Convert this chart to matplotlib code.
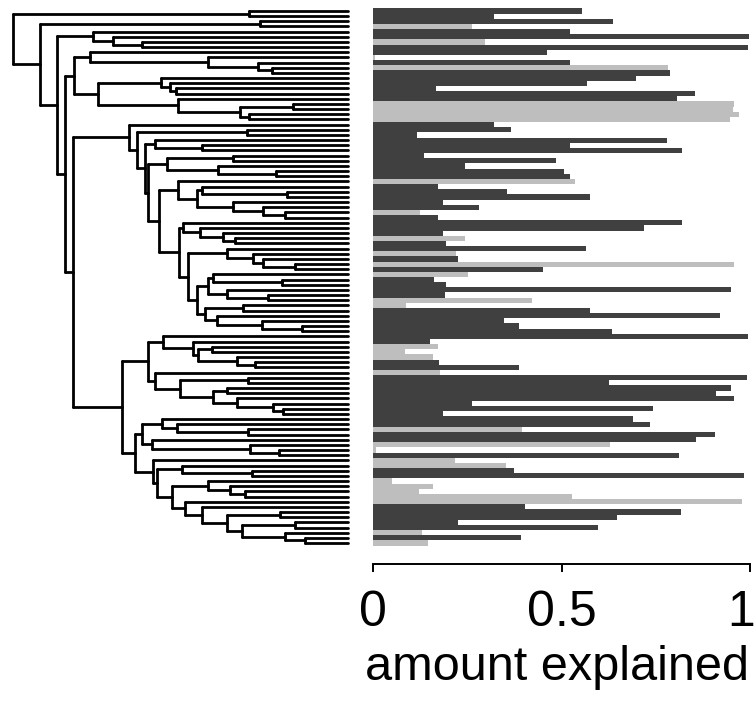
import matplotlib.pyplot as plt
from matplotlib.collections import LineCollection
from matplotlib.transforms import ScaledTranslation

plt.rcParams["font.family"] = ["Liberation Sans", "DejaVu Sans"]

# amount explained for each tip, top to bottom
explained = [
    0.554, 0.321, 0.637, 0.263, 0.523, 0.997, 0.297, 0.995, 0.462, 0.005,
    0.523, 0.782, 0.788, 0.698, 0.568, 0.167, 0.854, 0.806, 0.958, 0.955,
    0.971, 0.947, 0.321, 0.366, 0.117, 0.780, 0.523, 0.820, 0.135, 0.485,
    0.244, 0.507, 0.523, 0.536, 0.172, 0.355, 0.576, 0.186, 0.281, 0.125,
    0.172, 0.820, 0.719, 0.186, 0.244, 0.194, 0.565, 0.220, 0.225, 0.958,
    0.451, 0.252, 0.162, 0.194, 0.950, 0.191, 0.422, 0.088, 0.576, 0.920,
    0.347, 0.387, 0.634, 0.995, 0.151, 0.172, 0.085, 0.159, 0.175, 0.387,
    0.178, 0.992, 0.626, 0.950, 0.910, 0.958, 0.263, 0.743, 0.186, 0.690,
    0.735, 0.395, 0.907, 0.857, 0.629, 0.008, 0.812, 0.218, 0.353, 0.374,
    0.984, 0.050, 0.159, 0.122, 0.528, 0.979, 0.403, 0.817, 0.647, 0.225,
    0.597, 0.130, 0.393, 0.146,
]
# 1 = light grey bar, 0 = dark grey bar
light = [
    0, 0, 0, 1, 0, 0, 1, 0, 0, 1,
    0, 1, 0, 0, 0, 0, 0, 0, 1, 1,
    1, 1, 0, 0, 0, 0, 0, 0, 0, 0,
    0, 0, 0, 1, 0, 0, 0, 0, 0, 1,
    0, 0, 0, 0, 1, 0, 0, 1, 0, 1,
    0, 1, 0, 0, 0, 0, 1, 1, 0, 0,
    0, 0, 0, 0, 0, 1, 1, 1, 0, 0,
    1, 0, 0, 0, 0, 0, 0, 0, 0, 0,
    0, 1, 0, 0, 1, 1, 0, 1, 1, 0,
    0, 1, 1, 1, 1, 1, 0, 0, 0, 0,
    0, 1, 0, 1,
]

tick_values = [0, 0.5, 1]
tick_labels = ["0", "0.5", "1"]
x_label = "amount explained"

# tree nodes are (height, upper child, lower child); ints are tips (top to bottom)
clade_upper = (0.653, 22, (0.631, (0.302, 23, 24), (0.606, (0.576, 25, (0.437, 26, 27)), (0.596, (0.541, (0.342, 28, 29), (0.387, 30, (0.215, 31, 32))), (0.563, (0.506, 33, (0.452, (0.437, 34, (0.183, 35, 36)), (0.342, 37, (0.253, 38, (0.188, 39, 40))))), (0.504, (0.493, 41, (0.442, 42, (0.372, 43, (0.337, 44, 45)))), (0.477, (0.362, 46, (0.283, 47, (0.253, 48, (0.158, 49, 50)))), (0.452, (0.417, (0.402, 51, (0.198, 52, 53)), (0.362, 54, (0.238, 55, 56))), (0.427, (0.313, 57, 58), (0.392, 59, (0.258, 60, (0.138, 61, 62))))))))))))
clade_lower = (0.676, (0.596, (0.551, 63, (0.462, 64, (0.447, (0.407, 65, 66), (0.332, 67, (0.278, 68, 69))))), (0.576, 70, (0.501, (0.298, 71, 72), (0.402, (0.362, 73, 74), (0.332, 75, (0.223, 76, (0.193, 77, 78))))))), (0.636, (0.616, (0.556, 79, (0.511, 80, (0.298, 81, 82))), (0.586, 83, (0.293, 84, (0.205, 85, 86)))), (0.581, 87, (0.571, (0.496, 88, (0.287, 89, 90)), (0.526, (0.417, 91, (0.352, 92, (0.307, 93, 94))), (0.487, 95, (0.437, 96, (0.362, (0.203, 97, 98), (0.317, (0.158, 99, 100), (0.188, 101, (0.128, 102, 103)))))))))))
clade_top = (0.818, (0.770, 8, (0.417, 9, (0.268, 10, (0.228, 11, 12)))), (0.745, (0.558, 13, (0.531, 14, (0.514, 15, 16))), (0.508, 17, (0.322, (0.163, 18, 19), (0.295, 20, 21)))))
tree = (1.0, (0.295, 0, 1), (0.919, (0.263, 2, 3), (0.868, (0.762, 4, (0.701, 5, (0.616, 6, 7))), (0.845, clade_top, (0.820, clade_upper, clade_lower)))))

n = len(explained)


def layout(node, segs):
    if isinstance(node, int):
        return 0.0, float(node)
    h, a, b = node
    ha, ya = layout(a, segs)
    hb, yb = layout(b, segs)
    segs.append([(h, ya), (h, yb)])
    segs.append([(h, ya), (ha, ya)])
    segs.append([(h, yb), (hb, yb)])
    return h, (ya + yb) / 2


fig = plt.figure(figsize=(7.56, 7.08), dpi=100)
W, H = 756, 708
y_top, y_bot = 8.4, 545.6  # pixel rows covered by the tips / bars

ax_t = fig.add_axes([13 / W, 1 - y_bot / H, 335 / W, (y_bot - y_top) / H])
segs = []
layout(tree, segs)
ax_t.add_collection(LineCollection(segs, colors="black", linewidths=2.0,
                                   capstyle="round", clip_on=False))
ax_t.set_xlim(1.0, 0.0)
ax_t.set_ylim(n - 0.5, -0.5)
ax_t.axis("off")

ax_b = fig.add_axes([373 / W, 1 - y_bot / H, 377 / W, (y_bot - y_top) / H])
cols = ["#BEBEBE" if f else "#404040" for f in light]
ax_b.barh(range(n), explained, height=1.0, color=cols, linewidth=0)
ax_b.set_xlim(0, 1)
ax_b.set_ylim(n - 0.5, -0.5)
for s in ["left", "right", "top"]:
    ax_b.spines[s].set_visible(False)
ax_b.spines["bottom"].set_position(("outward", 13.3))
ax_b.spines["bottom"].set_linewidth(1.4)
ax_b.set_yticks([])
ax_b.set_xticks(tick_values)
ax_b.set_xticklabels(tick_labels)
ax_b.tick_params(axis="x", length=6, width=1.4, pad=13, labelsize=36)

# keep the last label inside the canvas
last = ax_b.get_xticklabels()[-1]
last.set_horizontalalignment("right")
last.set_transform(last.get_transform() + ScaledTranslation(0.05, 0, fig.dpi_scale_trans))

fig.text(557 / W, 1 - 680 / H, x_label, ha="center", va="baseline", fontsize=35)

fig.savefig("out.png", dpi=100)
